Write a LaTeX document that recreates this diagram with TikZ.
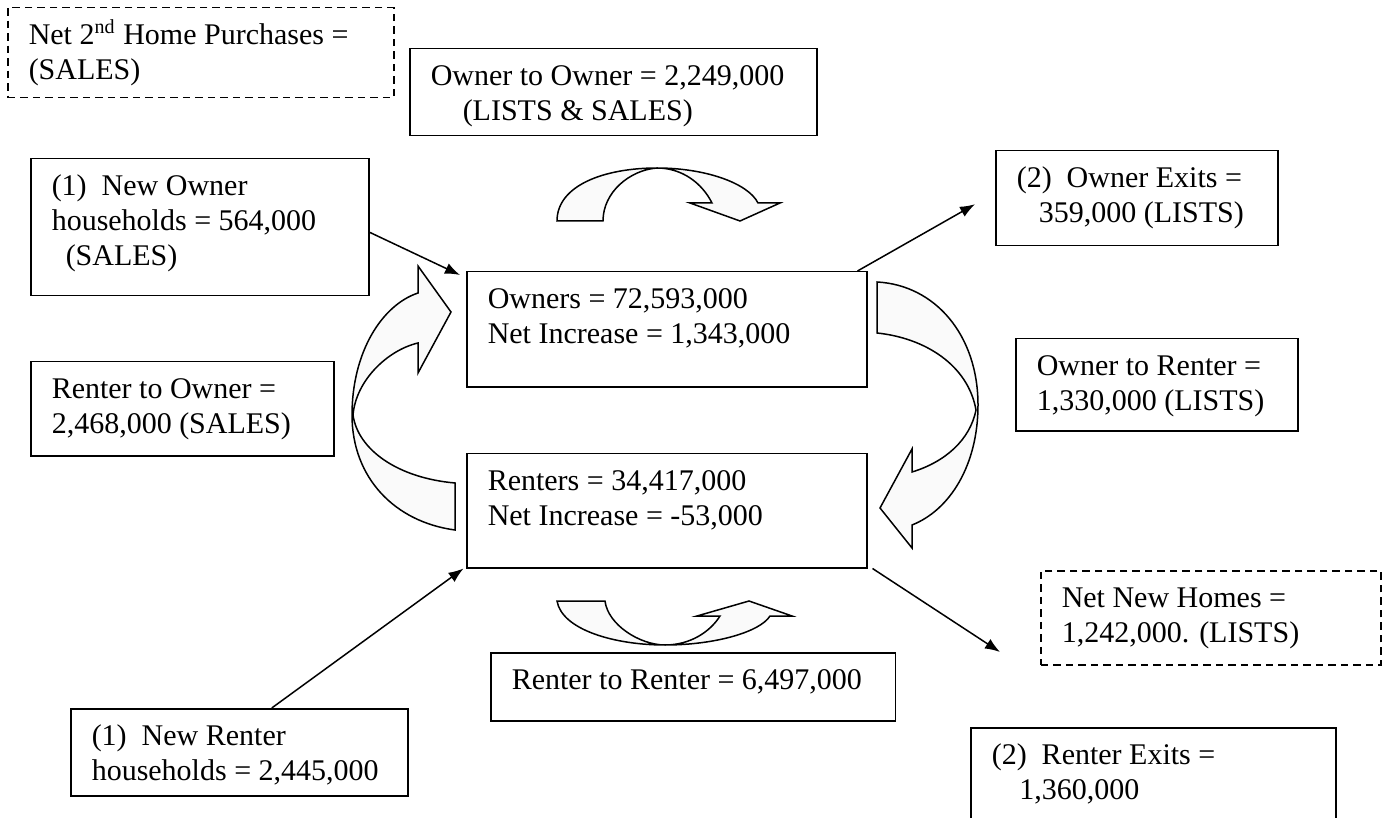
\documentclass[tikz,border=0pt]{standalone}
\usepackage{fontspec}
\setmainfont{Liberation Serif}
\usetikzlibrary{arrows.meta}
\tikzset{
	box/.style={draw, line width=.6pt, anchor=north west, align=flush left, font=\fontsize{12}{14}\selectfont,
		inner xsep=8.4pt, inner ysep=5pt, text height=9.8pt},
	dashbox/.style={box, dash pattern=on 3pt off 2pt},
	flow/.style={-{Latex[length=6pt,width=4.5pt]}, line width=.6pt},
	blockarrow/.style={draw, line width=.6pt, fill=gray!4, line join=miter},
}

\begin{document}
\begin{tikzpicture}[x=.4pt,y=-.4pt]
	\useasboundingbox (0,0) rectangle (1392,818);
		% Left column
		\node[dashbox, text width=137.6pt, text depth=16.2pt] (second) at (7,7) {Net 2\textsuperscript{nd} Home Purchases =\\(SALES)};
		\node[box, text width=118.4pt, text depth=35pt] (newown) at (30,158) {(1)\ \ New Owner\\households = 564,000\\\hspace*{5.6pt}(SALES)};
		\node[box, text width=104.4pt, text depth=17.8pt] (rentown) at (30,361) {Renter to Owner =\\2,468,000 (SALES)};
		\node[box, text width=118pt, text depth=15pt] (newrent) at (70,708) {(1)\ \ New Renter\\households = 2,445,000};
		% Middle column
		\node[box, text width=146pt, text depth=15pt] (ownown) at (409,48) {Owner to Owner = 2,249,000\\\hspace*{12.8pt}(LISTS \& SALES)};
		\node[box, text width=143.2pt, text depth=26.2pt] (owners) at (466,271) {Owners = 72,593,000\\Net Increase = 1,343,000};
		\node[box, text width=143.2pt, text depth=25.8pt] (renters) at (466,453) {Renters = 34,417,000\\Net Increase = -53,000};
		\node[box, text width=145pt, text depth=7.4pt] (rentrent) at (490,652) {Renter to Renter = 6,497,000};
		% Right column
		\node[box, text width=96pt, text depth=18.2pt] (ownexit) at (995,150) {(2)\ \ Owner Exits =\\\hspace*{8.8pt}359,000 (LISTS)};
		\node[box, text width=96pt, text depth=17pt] (ownrent) at (1015,338) {Owner to Renter =\\1,330,000 (LISTS)};
		\node[dashbox, text width=119.2pt, text depth=17.8pt] (newhomes) at (1040,570) {Net New Homes =\\1,242,000. (LISTS)};
		\node[box, text width=129.2pt, text depth=18.2pt] (rentexit) at (970,727) {(2)\ \ Renter Exits =\\\hspace*{11pt}1,360,000};
		% Curved arrows
		\draw[blockarrow] (557,221) .. controls (557,185) and (605,168) .. (657,168) .. controls (705,168) and (748,183) .. (758,203)
			-- (780,203) -- (740,221) -- (690,203) -- (712,203) .. controls (702,183) and (682,168) .. (657,168)
			.. controls (630,170) and (603,192) .. (603,221) -- cycle;
		\draw[blockarrow] (557,601) .. controls (562,630) and (615,645) .. (665,645) .. controls (715,645) and (760,632) .. (770,616)
			-- (792,616) -- (749,601) -- (697,616) -- (720,616) .. controls (710,632) and (690,645) .. (665,645)
			.. controls (640,645) and (608,625) .. (605,601) -- cycle;
		\draw[blockarrow] (455,530) .. controls (395,522) and (352,478) .. (352,415) .. controls (352,352) and (382,305) .. (418,293)
			-- (418,266) -- (451,312) -- (418,373) -- (418,343) .. controls (388,350) and (356,380) .. (353,415)
			.. controls (358,450) and (398,478) .. (455,483) -- cycle;
		\draw[blockarrow] (877,282) .. controls (935,285) and (978,335) .. (978,405) .. controls (978,465) and (950,510) .. (912,525)
			-- (912,548) -- (880,508) -- (912,449) -- (912,472) .. controls (945,462) and (970,440) .. (976,410)
			.. controls (968,365) and (925,338) .. (877,333) -- cycle;
		% Straight arrows
		\draw[flow] ([yshift=-2pt]newown.east) -- ([shift={(-2.4pt,-1.6pt)}]owners.north west);
		\draw[flow] ([xshift=-4pt]owners.north east) -- ([shift={(-8pt,-2.4pt)}]ownexit.west);
		\draw[flow] ([xshift=2pt]renters.south east) -- ([shift={(12pt,30pt)}]rentexit.north west);
		\draw[flow] ([xshift=13pt]newrent.north) -- ([xshift=-1pt]renters.south west);
\end{tikzpicture}
\end{document}
